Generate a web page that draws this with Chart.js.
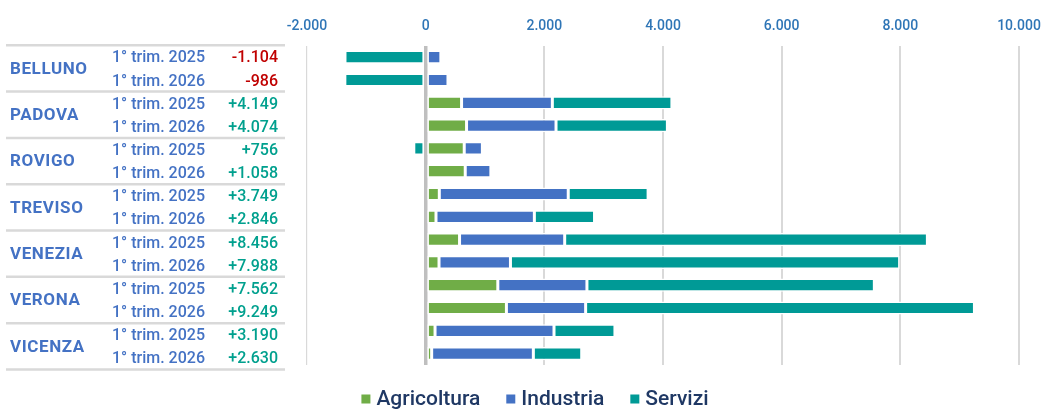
<!DOCTYPE html>
<html lang="it">
<head>
<meta charset="utf-8">
<title>Saldo imprese per settore</title>
<script src="https://cdn.jsdelivr.net/npm/chart.js@4.4.1/dist/chart.umd.min.js"></script>
<style>
  html, body { margin: 0; padding: 0; background: #fff; }
  #wrap { width: 1044px; height: 409px; }
</style>
</head>
<body>
<div id="wrap"><canvas id="chart"></canvas></div>
<script>
// data
const province = ['BELLUNO', 'PADOVA', 'ROVIGO', 'TREVISO', 'VENEZIA', 'VERONA', 'VICENZA'];
const periodi = ['1° trim. 2025', '1° trim. 2026'];
const agricoltura = [0, 0, 605, 689, 650, 667, 230, 174, 571, 225, 1216, 1361, 158, 101];
const industria = [256, 376, 1530, 1508, 306, 432, 2173, 1658, 1772, 1204, 1502, 1335, 2005, 1714];
const servizi = [-1360, -1362, 2015, 1877, -200, -41, 1346, 1014, 6113, 6559, 4844, 6553, 1027, 815];
const totali = [-1104, -986, 4149, 4074, 756, 1058, 3749, 2846, 8456, 7988, 7562, 9249, 3190, 2630];
const xTicks = [-2000, 0, 2000, 4000, 6000, 8000, 10000];

// one category per row: province x period
const righe = [];
province.forEach(p => periodi.forEach(t => righe.push(p + ' ' + t)));

const FONT = 'Roboto, "DejaVu Sans", sans-serif';

function fmt(v) {
  const s = Math.abs(v).toString().replace(/\B(?=(\d{3})+(?!\d))/g, '.');
  return (v < 0 ? '-' : '') + s;
}

// left-hand table: province, period, total
const tabella = {
  id: 'tabella',
  afterDraw(chart) {
    const { ctx, chartArea } = chart;
    const n = righe.length;
    const top = chartArea.top - 0.5;
    const rowH = (chartArea.height + 5) / n;
    ctx.save();
    ctx.textBaseline = 'middle';
    // separator lines
    ctx.strokeStyle = '#d9d9d9';
    ctx.lineWidth = 2.5;
    for (let g = 0; g <= province.length; g++) {
      const yy = top + g * 2 * rowH;
      ctx.beginPath();
      ctx.moveTo(6, yy);
      ctx.lineTo(285, yy);
      ctx.stroke();
    }
    province.forEach((p, g) => {
      ctx.fillStyle = '#4472C4';
      ctx.font = 'bold 17px ' + FONT;
      ctx.letterSpacing = '0.6px';
      ctx.textAlign = 'left';
      ctx.fillText(p, 10, top + (g * 2 + 1) * rowH + 1);
    });
    ctx.letterSpacing = '0px';
    righe.forEach((r, i) => {
      const yy = top + (i + 0.5) * rowH + 1.5;
      ctx.textAlign = 'left';
      ctx.fillStyle = '#4472C4';
      ctx.font = '500 16px ' + FONT;
      ctx.fillText(periodi[i % 2], 112, yy);
      const v = totali[i];
      ctx.textAlign = 'right';
      ctx.fillStyle = v < 0 ? '#C00000' : '#00A08E';
      ctx.fillText((v < 0 ? '-' : '+') + fmt(Math.abs(v)), 278, yy);
    });
    ctx.restore();
  }
};

// legend row under the plot
const legenda = {
  id: 'legenda',
  afterDraw(chart) {
    const { ctx } = chart;
    const sets = chart.data.datasets;
    const box = 9, gapText = 6, gapItem = 26;
    ctx.save();
    ctx.font = '500 21px ' + FONT;
    ctx.textBaseline = 'middle';
    const widths = sets.map(d => box + gapText + ctx.measureText(d.label).width);
    const total = widths.reduce((a, b) => a + b, 0) + gapItem * (sets.length - 1);
    let x = chart.width / 2 + 13 - total / 2;
    const yy = 399;
    sets.forEach((d, i) => {
      ctx.fillStyle = d.backgroundColor;
      ctx.fillRect(x, yy - box / 2, box, box);
      ctx.fillStyle = '#1F3864';
      ctx.textAlign = 'left';
      ctx.fillText(d.label, x + box + gapText, yy + 1);
      x += widths[i] + gapItem;
    });
    ctx.restore();
  }
};

const ctx = document.getElementById('chart').getContext('2d');
new Chart(ctx, {
  type: 'bar',
  data: {
    labels: righe,
    datasets: [
      { label: 'Agricoltura', data: agricoltura, backgroundColor: '#70AD47' },
      { label: 'Industria', data: industria, backgroundColor: '#4472C4' },
      { label: 'Servizi', data: servizi, backgroundColor: '#009A96' }
    ]
  },
  options: {
    indexAxis: 'y',
    responsive: true,
    maintainAspectRatio: false,
    animation: false,
    datasets: {
      bar: {
        borderColor: '#ffffff',
        borderWidth: 1.5,
        borderSkipped: false,
        categoryPercentage: 1,
        barPercentage: 0.58
      }
    },
    layout: { padding: { left: 26, right: 25, top: 7, bottom: 44 } },
    scales: {
      x: {
        position: 'top',
        stacked: true,
        min: -2000,
        max: 10000,
        afterBuildTicks: (scale) => { scale.ticks = xTicks.map(v => ({ value: v })); },
        afterFit: (scale) => { scale.paddingRight = 0; scale.paddingLeft = 0; },
        border: { display: false },
        grid: {
          drawTicks: false,
          color: (c) => c.tick && c.tick.value === 0 ? '#bfbfbf' : '#d9d9d9',
          lineWidth: (c) => c.tick && c.tick.value === 0 ? 3.5 : (c.tick && c.tick.value === -2000 ? 1.2 : 2)
        },
        ticks: {
          padding: 11,
          color: '#2E75B6',
          font: { family: FONT, size: 14, weight: '500' },
          callback: (v) => fmt(v)
        }
      },
      y: {
        stacked: true,
        grid: { display: false },
        border: { display: false },
        ticks: { display: false },
        afterFit: (scale) => { scale.width = 281; }
      }
    },
    plugins: {
      legend: { display: false },
      tooltip: { enabled: false }
    }
  },
  plugins: [tabella, legenda]
});
</script>
</body>
</html>
